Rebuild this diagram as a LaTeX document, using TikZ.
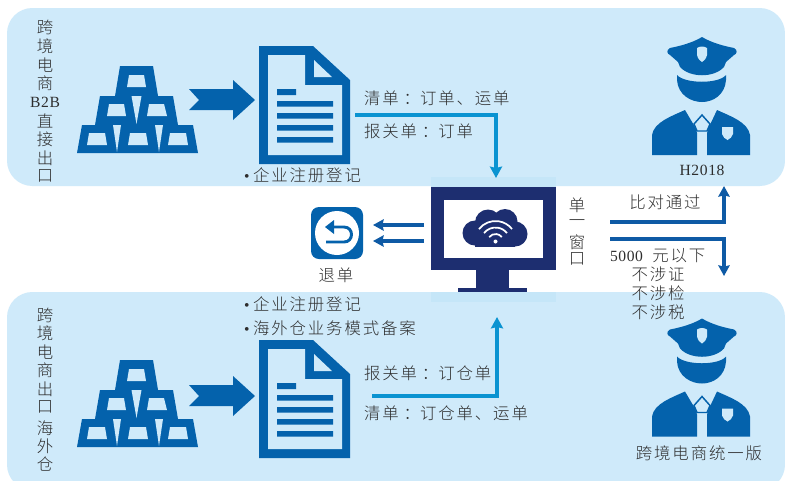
\documentclass[tikz,border=0pt]{standalone}
\usepackage{fontspec}
\usetikzlibrary{arrows.meta}
\newfontfamily\cjk[LetterSpace=11.6]{Noto Sans CJK SC Light}
\newfontfamily\cjkn[LetterSpace=4,Scale=0.95]{Liberation Serif}
\newcommand{\lat}[1]{{\cjkn #1}}
\newcommand{\colonc}{\kern.3em：\kern0em}
\newcommand{\bul}{\makebox[6.75pt][l]{\lat{•}}}
\definecolor{panelc}{HTML}{CFEAFA}
\definecolor{patchc}{HTML}{C5E6F8}
\definecolor{iconc}{HTML}{0462AC}
\definecolor{monc}{HTML}{1D2E70}
\definecolor{cyanc}{HTML}{0A93D1}
\definecolor{linec}{HTML}{0E5AA5}
\definecolor{txtc}{HTML}{2E2E2E}
\newcommand{\goldstack}{%
  \fill[iconc] (120,66)--(153,66)--(158,96)--(173,96)--(178,125)--(193,125)--(198,153)--(77,153)--(82,125)--(95,125)--(100,96)--(115,96)--cycle;
  \fill[panelc] (129,75)--(144,75)--(146,87)--(127,87)--cycle
    (109,104)--(124,104)--(126,116)--(107,116)--cycle
    (149,104)--(164,104)--(167,116)--(147,116)--cycle
    (89,133)--(105,133)--(107,145)--(87,145)--cycle
    (130,133)--(146,133)--(148,145)--(128,145)--cycle
    (170,133)--(186,133)--(188,145)--(168,145)--cycle
    (131.5,96)--(141.5,96)--(136.5,124)--cycle
    (113,125)--(121,125)--(117,152)--cycle
    (155,125)--(163,125)--(159,152)--cycle;
}
\newcommand{\docicon}{%
  \fill[iconc] (259,46)--(313,46)--(350,80)--(350,164)--(259,164)--cycle;
  \fill[panelc] (268,55)--(305,55)--(305,85)--(342,85)--(342,155)--(268,155)--cycle
    (314,60)--(332,77)--(314,77)--cycle;
  \fill[iconc] (277,89) rectangle (296,95)
    (277,101) rectangle (333,106.5)
    (277,113) rectangle (333,118.5)
    (277,125) rectangle (333,130.5)
    (277,137) rectangle (333,142.5);
}
\newcommand{\policeicon}{%
  \fill[iconc] (702,37) .. controls (692,43) and (680,46) .. (670,48)
    .. controls (666,50) and (667,54) .. (670,55) -- (678,62) -- (680,67)
    .. controls (690,78) and (714,78) .. (724,67) -- (726,62) -- (734,55)
    .. controls (737,54) and (738,50) .. (734,48)
    .. controls (724,46) and (712,43) .. (702,37) -- cycle;
  \fill[panelc] (697,48) .. controls (700,46) and (704,46) .. (707,48) -- (707,55)
    .. controls (706,59) and (704,61) .. (702,62) .. controls (700,61) and (698,59) .. (697,55) -- cycle;
  \fill[iconc] (677,75) .. controls (685,84) and (719,84) .. (726,75) -- (726,80)
    .. controls (725,95) and (713,102) .. (702,102)
    .. controls (691,102) and (678,95) .. (677,80) -- cycle;
  \fill[iconc] (652,155) -- (652,135) .. controls (654,122) and (672,116) .. (685,110)
    -- (695,127) -- (697,133) -- (697,155) -- cycle;
  \fill[iconc] (750,155) -- (750,135) .. controls (748,122) and (730,116) .. (717,110)
    -- (709,127) -- (707,133) -- (707,155) -- cycle;
  \draw[iconc,line width=1.1pt,fill=panelc] (702,115) -- (694,124) -- (697,131) -- (707,131) -- (710,124) -- cycle;
  \fill[panelc] (722,127) -- (733,127) -- (733,134) .. controls (732,137) and (730,139) .. (727.5,140)
    .. controls (725,139) and (723,137) .. (722,134) -- cycle;
}
\tikzset{
  txt/.style={inner sep=0pt,outer sep=0pt,text=txtc,font=\fontsize{12.3}{14}\selectfont\cjk},
  vtxt/.style={txt,anchor=center},
  ltxt/.style={txt,anchor=west},
  cyanline/.style={cyanc,line width=2.5pt,-{Stealth[length=8.5pt,width=9pt,inset=1pt]}},
  blueline/.style={linec,line width=2.5pt,-{Stealth[length=8pt,width=8.5pt,inset=1pt]}},
  monbox/.style={fill=monc,inner sep=0pt,minimum width=93.75pt,minimum height=62.25pt},
  retbox/.style={fill=iconc,inner sep=0pt,minimum width=39pt,minimum height=39pt,rounded corners=6pt},
}
\begin{document}
\begin{tikzpicture}[x=0.75pt,y=-0.75pt]
\useasboundingbox (0,0) rectangle (785,480);
\begin{scope}
\clip (0,0) rectangle (785,480);
\fill[white] (0,0) rectangle (785,480);
\fill[panelc,rounded corners=19pt] (7,8) rectangle (785,186);
\fill[panelc,rounded corners=19pt] (7,292) rectangle (785,490);
\fill[patchc] (431,177) rectangle (556,187);
\fill[patchc] (431,292) rectangle (556,302);
\end{scope}
\goldstack
\fill[iconc] (189,89)--(233,89)--(233,80)--(255,100)--(233,120)--(233,110)--(189,110)--(199,100)--cycle;
\docicon
\begin{scope}[shift={(0,294)}]
\goldstack
\docicon
\end{scope}
\fill[iconc] (189,385)--(233,385)--(233,376)--(255,396)--(233,416)--(233,406)--(189,406)--(199,396)--cycle;
\policeicon
\begin{scope}[shift={(0,281.5)}]
\policeicon
\end{scope}
\node[monbox] (mon) at (493.5,228.5) {};
\fill[white] (444,200) rectangle (543,258);
\fill[monc] (476,270) rectangle (509,288);
\fill[monc] (458,288) rectangle (527,291.5);
\fill[monc] (475,233) circle[radius=12.5] (488,222.5) circle[radius=13] (505,221.5) circle[radius=12.5] (515,234) circle[radius=12.5];
\fill[monc] (475,228) rectangle (515,246.5);
\foreach \r in {8,14.5,21}
  \draw[white,line width=1.3pt] (495.5,242) ++(218:\r) arc[start angle=218,end angle=322,radius=\r];
\fill[white] (495.5,241.5) circle[radius=2];
\node[retbox] (ret) at (337,233) {};
\fill[white] (337,233) circle[radius=22];
\draw[iconc,line width=2.2pt] (331,227) -- (344,227) .. controls (354,227) and (354,242) .. (344,242) -- (326,242);
\fill[iconc] (325,227) -- (334,220) -- (334,234) -- cycle;
\coordinate (c1s) at (355,115); \coordinate (c1b) at (496,115); \coordinate (c1e) at (496,178);
\draw[cyanline] (c1s) -- (c1b) -- (c1e);
\coordinate (c2s) at (372,396); \coordinate (c2b) at (497,396); \coordinate (c2e) at (497,317);
\draw[cyanline] (c2s) -- (c2b) -- (c2e);
\coordinate (r1s) at (424,225); \coordinate (r1e) at (373,225);
\coordinate (r2s) at (424,241); \coordinate (r2e) at (373,241);
\draw[blueline] (r1s) -- (r1e);
\draw[blueline] (r2s) -- (r2e);
\coordinate (o1s) at (610,222); \coordinate (o1b) at (724,222); \coordinate (o1e) at (724,186);
\draw[blueline] (o1s) -- (o1b) -- (o1e);
\coordinate (o2s) at (610,239); \coordinate (o2b) at (724,239); \coordinate (o2e) at (724,276);
\draw[blueline] (o2s) -- (o2b) -- (o2e);
\node[vtxt] (a1) at (45,27) {跨};
\node[vtxt] (a2) at (45,46) {境};
\node[vtxt] (a3) at (45,65) {电};
\node[vtxt] (a4) at (45,83) {商};
\node[vtxt] (a5) at (45,102) {\lat{B2B}};
\node[vtxt] (a6) at (45,121) {直};
\node[vtxt] (a7) at (45,139) {接};
\node[vtxt] (a8) at (45,158) {出};
\node[vtxt] (a9) at (45,176) {口};
\node[vtxt] (b1) at (45,315) {跨};
\node[vtxt] (b2) at (45,333) {境};
\node[vtxt] (b3) at (45,352) {电};
\node[vtxt] (b4) at (45,370) {商};
\node[vtxt] (b5) at (45,389) {出};
\node[vtxt] (b6) at (45,407) {口};
\node[vtxt] (b7) at (45,428) {海};
\node[vtxt] (b8) at (45,446) {外};
\node[vtxt] (b9) at (45,464) {仓};
\node[vtxt] (w1) at (577,205) {单};
\node[vtxt] (w2) at (577,223) {一};
\node[vtxt] (w3) at (577,242) {窗};
\node[vtxt] (w4) at (577,259) {口};
\node[ltxt] (t1) at (244,175) {\bul 企业注册登记};
\node[ltxt] (t2) at (364,98) {清单\colonc 订单、运单};
\node[ltxt] (t3) at (364,131) {报关单\colonc 订单};
\node[ltxt] (t4) at (244,304) {\bul 企业注册登记};
\node[ltxt] (t5) at (244,328) {\bul 海外仓业务模式备案};
\node[ltxt] (t6) at (364,373) {报关单\colonc 订仓单};
\node[ltxt] (t7) at (364,413) {清单\colonc 订仓单、运单};
\node[vtxt] (t8) at (336,275) {退单};
\node[vtxt] (t9) at (665,202) {比对通过};
\node[ltxt] (t10) at (610,256) {\lat{5000}\kern7pt 元以下};
\node[vtxt] (t11) at (658,274) {不涉证};
\node[vtxt] (t12) at (658,293) {不涉检};
\node[vtxt] (t13) at (658,312) {不涉税};
\node[vtxt] (t14) at (702,170) {\lat{H2018}};
\node[vtxt] (t15) at (699,453) {跨境电商统一版};
\end{tikzpicture}
\end{document}
